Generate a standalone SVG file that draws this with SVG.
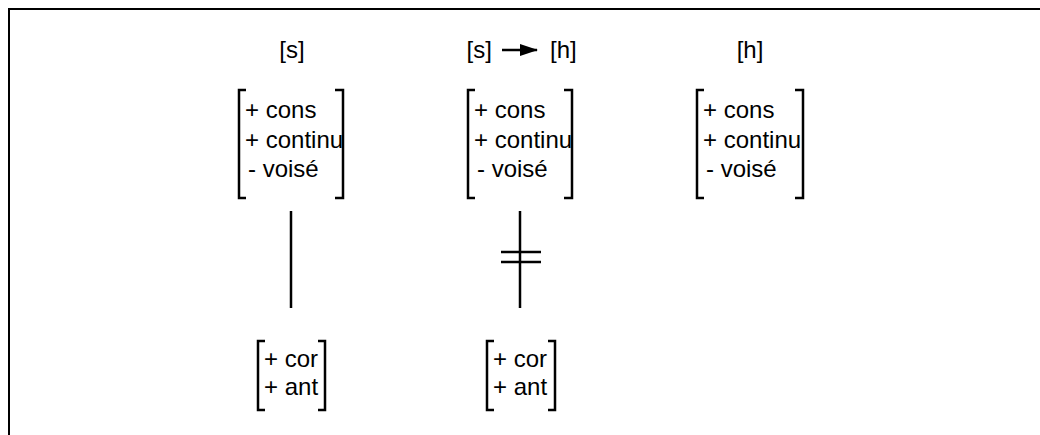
<svg xmlns="http://www.w3.org/2000/svg" width="1040" height="435" viewBox="0 0 1040 435">
<style>
text{font-family:"Liberation Sans",Arial,sans-serif;font-size:24px;fill:#000}
.br{fill:none;stroke:#000;stroke-width:2.5}
.ln{fill:none;stroke:#000;stroke-width:2.5}
</style>
<defs>
<marker id="ah" viewBox="0 0 18 12" refX="17" refY="6" markerWidth="18" markerHeight="12" markerUnits="userSpaceOnUse" orient="auto"><path d="M0,0L18,6L0,12z" fill="#000"/></marker>
</defs>
<rect x="0" y="0" width="1040" height="435" fill="#fff"/>
<rect x="9" y="9" width="1100" height="500" fill="none" stroke="#000" stroke-width="2"/>
<g id="s-label"><text x="292" y="58" text-anchor="middle">[s]</text></g>
<g id="sh-label"><text x="466.5" y="58">[s]</text><text x="550" y="58">[h]</text>
<line class="ln" x1="502" y1="50" x2="537" y2="50" marker-end="url(#ah)"/></g>
<g id="h-label"><text x="750" y="58" text-anchor="middle">[h]</text></g>
<g id="box-s">
<path class="br" d="M246,90H239V198H246M335,90H343V198H335"/>
<text x="245" y="118">+ cons</text><text x="245" y="147.5">+ continu</text><text x="248" y="177">- voisé</text>
</g>
<g id="box-sh">
<path class="br" d="M475,90H468V198H475M564,90H572V198H564"/>
<text x="474" y="118">+ cons</text><text x="474" y="147.5">+ continu</text><text x="477" y="177">- voisé</text>
</g>
<g id="box-h">
<path class="br" d="M704,90H697V198H704M795,90H803V198H795"/>
<text x="703" y="118">+ cons</text><text x="703" y="147.5">+ continu</text><text x="706" y="177">- voisé</text>
</g>
<g id="box-cor1">
<path class="br" d="M265,341H258V410H265M318,341H325V410H318"/>
<text x="264" y="367">+ cor</text><text x="264" y="395">+ ant</text>
</g>
<g id="box-cor2">
<path class="br" d="M494,341H487V410H494M548,341H555V410H548"/>
<text x="493" y="367">+ cor</text><text x="493" y="395">+ ant</text>
</g>
<g id="connectors">
<line class="ln" x1="291" y1="211" x2="291" y2="308"/>
<line class="ln" x1="520" y1="211" x2="520" y2="308"/>
<line class="ln" x1="501" y1="252" x2="541" y2="252"/>
<line class="ln" x1="501" y1="262" x2="541" y2="262"/>
</g>
</svg>
